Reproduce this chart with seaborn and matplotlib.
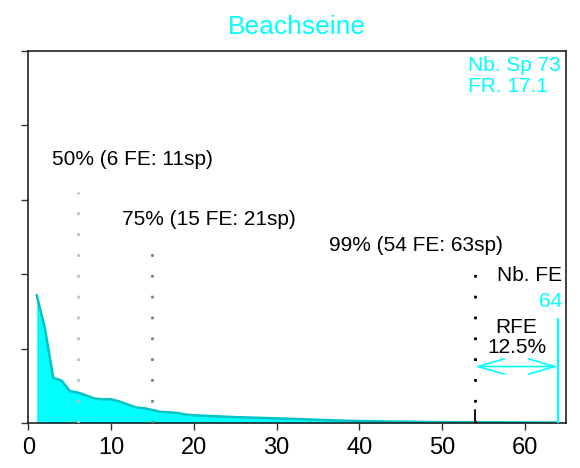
import numpy as np
import pandas as pd
import matplotlib
matplotlib.use("Agg")
import matplotlib.pyplot as plt
import seaborn as sns

# Relative share (%) of each functional entity, ranked in decreasing order
fe_rank = list(range(1, 65))
fe_share = [
    17.2, 12.7, 6.1, 5.7, 4.3, 4.1, 3.7, 3.3, 3.2, 3.2,
    2.9, 2.5, 2.1, 2.0, 1.75, 1.5, 1.45, 1.35, 1.15, 1.05,
    1.0, 0.95, 0.9, 0.85, 0.8, 0.77, 0.74, 0.7, 0.67, 0.63,
    0.6, 0.56, 0.52, 0.48, 0.44, 0.4, 0.36, 0.33, 0.3, 0.28,
    0.26, 0.24, 0.22, 0.2, 0.19, 0.18, 0.16, 0.15, 0.14, 0.13,
    0.12, 0.11, 0.11, 0.1, 0.1, 0.1, 0.1, 0.09, 0.09, 0.08,
    0.08, 0.07, 0.07, 0.06,
]

title = "Beachseine"
n_species = 73
fred = 17.1
n_fe = 64
rfe = 12.5

# Cumulative thresholds: (percent, number of FE, number of species)
thresholds = [(50, 6, 11), (75, 15, 21), (99, 54, 63)]
thr_colors = ["#c0c0c0", "#808080", "#000000"]
thr_line_top = [31.0, 23.8, 20.6]
thr_text_pos = [(2.8, 35.4), (11.35, 27.3), (36.3, 23.8)]

sns.set_style("white")
plt.rcParams["font.family"] = ["Liberation Sans", "DejaVu Sans"]

CYAN = "#00ffff"
DARK_CYAN = "#00c4c4"
FS = 15

fig = plt.figure(figsize=(5.8, 4.68), dpi=100)
ax = fig.add_axes([0.049, 0.096, 0.927, 0.795])

df = pd.DataFrame({"fe": fe_rank, "share": fe_share})
ax.fill_between(df["fe"], 0, df["share"], color=CYAN, lw=0, zorder=1)
sns.lineplot(data=df, x="fe", y="share", color=DARK_CYAN, lw=1.8, ax=ax, zorder=2)

# Threshold markers
for (pct, nfe, nsp), col, top, (tx, ty) in zip(thresholds, thr_colors, thr_line_top, thr_text_pos):
    ax.plot([nfe, nfe], [0, top], color=col, lw=2.0, linestyle=(0, (1, 6.5)), zorder=3)
    ax.text(tx, ty, f"{pct}% ({nfe} FE: {nsp}sp)", fontsize=FS, color="black",
            ha="left", va="center", zorder=4)
ax.plot([54, 54], [0, 1.7], color="black", lw=1.3, zorder=3)

# Total number of FE
ax.plot([n_fe, n_fe], [0, 14.0], color=CYAN, lw=1.6, zorder=3)
ax.text(64.5, 19.8, "Nb. FE", fontsize=FS, color="black", ha="right", va="center")
ax.text(64.5, 16.3, f"{n_fe}", fontsize=FS, color=CYAN, ha="right", va="center")
ax.text(59.0, 12.9, "RFE", fontsize=FS, color="black", ha="center", va="center")
ax.text(59.0, 10.1, f"{rfe}%", fontsize=FS, color="black", ha="center", va="center")
ax.annotate("", xy=(54, 7.6), xytext=(n_fe, 7.6),
            arrowprops=dict(arrowstyle="<->,head_length=1.9,head_width=0.55",
                            color=CYAN, lw=1.2, mutation_scale=10,
                            shrinkA=0, shrinkB=0), zorder=4)

# Species richness and functional redundancy
ax.text(53.1, 48.1, f"Nb. Sp {n_species}", fontsize=FS, color=CYAN, ha="left", va="center")
ax.text(53.1, 45.2, f"FR. {fred}", fontsize=FS, color=CYAN, ha="left", va="center")

ax.set_title(title, fontsize=19, color=CYAN, pad=12)

ax.set_xlim(0, 65)
ax.set_ylim(0, 50)
ax.set_xticks([0, 10, 20, 30, 40, 50, 60])
ax.set_yticks([0, 10, 20, 30, 40, 50])
ax.set_yticklabels([])
ax.set_xlabel("")
ax.set_ylabel("")
ax.tick_params(axis="x", labelsize=17, labelcolor="black", length=5, width=1,
               color="#333333", pad=5, direction="out", bottom=True)
ax.tick_params(axis="y", length=5, width=1, color="#333333", direction="out", left=True)
for side in ax.spines.values():
    side.set_color("#222222")
    side.set_linewidth(1.2)

fig.savefig("out.png", dpi=100)
